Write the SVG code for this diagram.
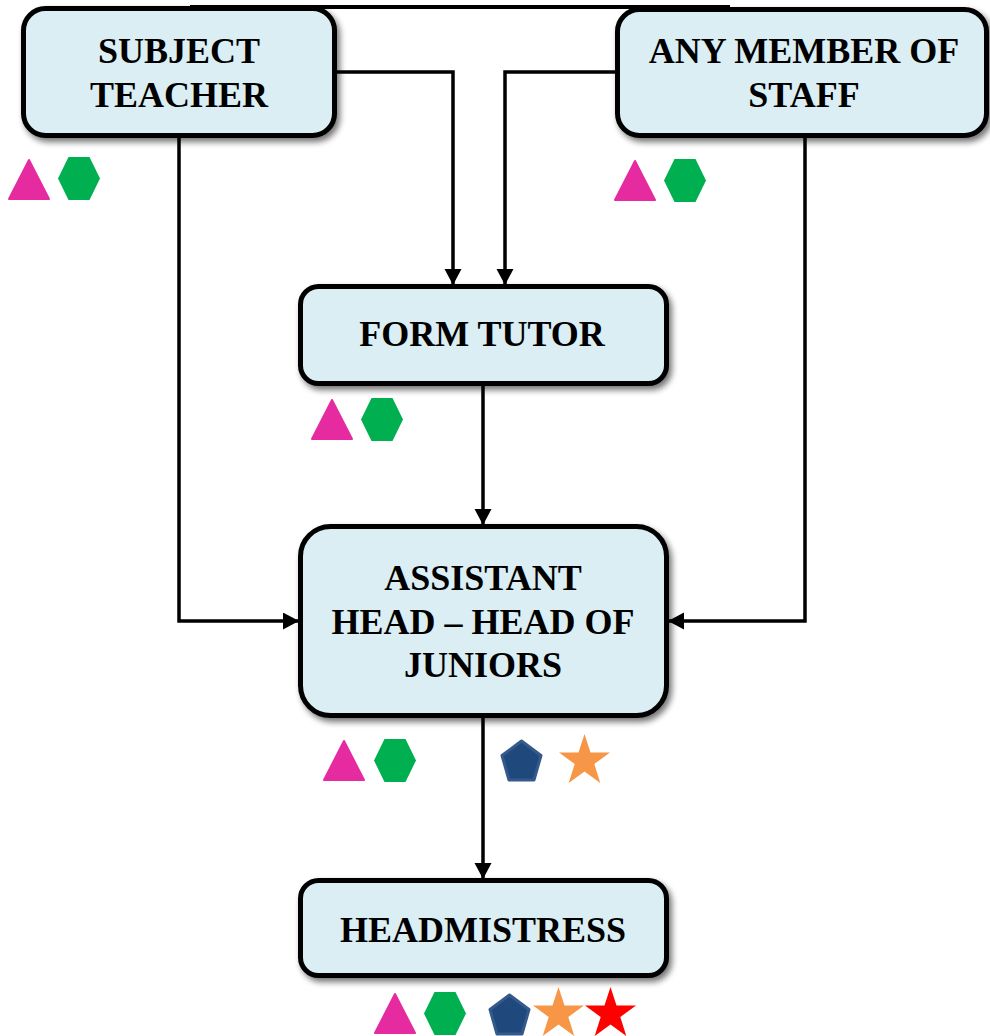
<svg xmlns="http://www.w3.org/2000/svg" width="990" height="1036" viewBox="0 0 990 1036">
<style>
.box{fill:#DAEEF3;stroke:#000;stroke-width:5}
.lbl{font-family:"Liberation Serif","Times New Roman",serif;font-weight:bold;font-size:36px;fill:#000;text-anchor:middle}
.con{fill:none;stroke:#000;stroke-width:3.5}
</style>
<defs>
<filter id="sh" x="-10%" y="-10%" width="130%" height="130%">
<feGaussianBlur in="SourceAlpha" stdDeviation="3"/>
<feOffset dx="3" dy="4" result="b"/>
<feComponentTransfer><feFuncA type="linear" slope="0.55"/></feComponentTransfer>
<feMerge><feMergeNode/><feMergeNode in="SourceGraphic"/></feMerge>
</filter>
<marker id="ah" markerWidth="18" markerHeight="18" refX="15" refY="8.5" orient="auto" markerUnits="userSpaceOnUse">
<path d="M0,0 L16,8.5 L0,17 Z" fill="#000"/>
</marker>
<g id="tri"><polygon points="21,2 41,41 1,41" fill="#E62AA0" stroke="#E62AA0" stroke-width="2" stroke-linejoin="round"/></g>
<g id="hex"><polygon points="10.5,0 31.5,0 42,21.5 31.5,43 10.5,43 0,21.5" fill="#00B050"/></g>
<g id="pent"><polygon points="21.5,2 41,16.5 34,41 9,41 2,16.5" fill="#1F497D" stroke="#34598A" stroke-width="3" stroke-linejoin="round"/></g>
<g id="star"><polygon points="25.5,0 31.5,18.5 51,18.5 35.3,30 41.3,49 25.5,37.5 9.7,49 15.7,30 0,18.5 19.5,18.5"/></g>
</defs>

<line x1="190" y1="7" x2="730" y2="7" stroke="#000" stroke-width="4"/>

<g id="connectors">
<polyline class="con" points="337,72 453,72 453,284" marker-end="url(#ah)"/>
<polyline class="con" points="617,72 505,72 505,284" marker-end="url(#ah)"/>
<polyline class="con" points="179,137 179,621 298,621" marker-end="url(#ah)"/>
<polyline class="con" points="805,136 805,621 669,621" marker-end="url(#ah)"/>
<line class="con" x1="483" y1="386" x2="483" y2="524" marker-end="url(#ah)"/>
<line class="con" x1="483" y1="718" x2="483" y2="878" marker-end="url(#ah)"/>
</g>

<g id="subject-teacher">
<rect class="box" x="23.5" y="8.5" width="311" height="127" rx="22" filter="url(#sh)"/>
<text class="lbl" x="179" y="63">SUBJECT</text>
<text class="lbl" x="179" y="107">TEACHER</text>
</g>
<g id="any-member">
<rect class="box" x="617.5" y="9.5" width="369" height="126" rx="22" filter="url(#sh)"/>
<text class="lbl" x="804" y="63">ANY MEMBER OF</text>
<text class="lbl" x="804" y="107">STAFF</text>
</g>
<g id="form-tutor">
<rect class="box" x="300.5" y="286.5" width="366" height="97" rx="18" filter="url(#sh)"/>
<text class="lbl" x="482" y="346">FORM TUTOR</text>
</g>
<g id="assistant-head">
<rect class="box" x="300.5" y="526.5" width="366" height="189" rx="30" filter="url(#sh)"/>
<text class="lbl" x="483" y="590">ASSISTANT</text>
<text class="lbl" x="483" y="634">HEAD – HEAD OF</text>
<text class="lbl" x="483" y="677">JUNIORS</text>
</g>
<g id="headmistress">
<rect class="box" x="300.5" y="880.5" width="366" height="95" rx="18" filter="url(#sh)"/>
<text class="lbl" x="483" y="942">HEADMISTRESS</text>
</g>

<g id="icons">
<use href="#tri" x="8" y="158"/>
<use href="#hex" x="58" y="157"/>
<use href="#tri" x="614" y="159"/>
<use href="#hex" x="664" y="159"/>
<use href="#tri" x="311" y="398"/>
<use href="#hex" x="361" y="398"/>
<use href="#tri" x="323" y="739"/>
<use href="#hex" x="374" y="739"/>
<use href="#pent" x="500" y="739"/>
<use href="#star" x="559" y="734" fill="#F79646"/>
<use href="#tri" x="374" y="992"/>
<use href="#hex" x="424" y="992"/>
<use href="#pent" x="488" y="993"/>
<use href="#star" x="533" y="987" fill="#F79646"/>
<use href="#star" x="585" y="987" fill="#FF0000"/>
</g>
</svg>
